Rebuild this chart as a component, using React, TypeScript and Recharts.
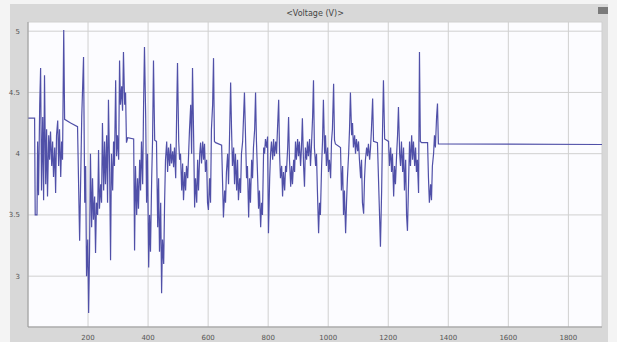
import React from 'react';
import { LineChart, Line, XAxis, YAxis, CartesianGrid } from 'recharts';

const title = '<Voltage (V)>';
const xTicks = [200, 400, 600, 800, 1000, 1200, 1400, 1600, 1800];
const yTicks = [3, 3.5, 4, 4.5, 5];
const yTickLabels = ['3', '3.5', '4', '4.5', '5'];
const xDomain = [0, 1912];
const yDomain = [2.585, 5.075];

// [time, voltage]
const lead: [number, number][] = [
  [0, 4.29], [22, 4.29], [24, 3.5], [30, 3.5],
];

const burst1: [number, number][] = [
  [32, 4.1], [35, 3.66], [39, 4.4], [42, 4.7], [45, 3.7], [49, 4.3], [52, 3.62], [55, 4.64],
  [59, 3.75], [62, 4.2], [65, 3.65], [69, 4.15], [72, 3.95], [75, 4.18], [79, 3.9], [82, 4.1],
  [85, 3.81], [89, 4.05], [92, 3.68], [95, 4.15], [99, 4.27], [102, 3.9], [105, 4.2], [109, 3.81],
  [112, 4.1], [115, 3.95], [119, 5.01], [122, 4.28], [142, 4.25], [165, 4.22], [172, 3.29],
  [179, 4.3], [185, 4.79], [189, 3.6], [192, 3.9], [195, 3.0], [199, 3.3], [202, 2.7], [205, 3.2],
  [208, 4.0], [212, 3.4], [215, 3.8], [218, 3.46], [222, 3.65], [225, 3.19], [228, 3.6], [232, 3.5],
  [235, 4.03], [238, 3.55], [242, 3.75], [245, 3.6], [248, 4.25], [252, 3.7], [255, 4.1], [258, 3.75],
  [262, 4.15], [265, 3.6], [268, 4.44], [272, 3.85], [275, 3.13], [278, 4.0], [282, 3.7], [285, 4.1],
  [288, 3.9], [292, 4.6], [295, 3.98], [298, 4.15], [302, 3.95], [305, 4.76], [308, 4.4], [312, 4.55],
  [315, 4.35], [318, 4.83], [322, 4.4], [325, 4.5], [328, 4.09], [332, 4.13],
];

const burst2: [number, number][] = [
  [352, 4.12], [355, 3.21], [358, 3.9], [362, 3.5], [365, 3.8], [368, 3.55], [372, 3.95], [375, 3.7],
  [378, 4.1], [382, 3.75], [385, 4.4], [388, 4.87], [392, 4.3], [395, 3.6], [398, 4.0], [402, 3.07],
  [405, 3.5], [408, 3.2], [412, 3.8], [415, 4.12], [418, 4.76], [422, 4.11], [428, 4.1], [432, 3.4],
  [435, 3.8], [438, 3.2], [442, 3.6], [445, 2.86], [448, 3.3], [452, 3.1], [455, 3.6], [458, 3.95],
  [462, 4.1], [465, 3.85], [468, 4.05], [472, 3.9], [475, 4.08], [478, 3.92], [482, 4.02], [485, 3.89],
  [488, 4.05], [492, 3.8], [495, 4.3], [498, 4.74], [502, 4.1], [505, 3.95], [508, 4.0], [512, 3.7],
  [515, 3.92], [518, 3.62], [522, 3.85], [525, 3.7], [528, 3.9], [532, 3.8], [535, 4.0], [538, 4.2],
  [542, 4.4], [545, 4.0], [548, 4.7], [552, 4.1], [555, 3.56], [558, 3.8], [562, 3.6], [565, 3.95],
  [568, 3.7], [572, 4.0], [575, 4.09], [578, 3.92], [582, 4.1], [585, 3.95], [588, 4.08], [591, 3.85],
  [595, 3.95], [598, 3.6], [601, 3.54], [605, 3.8], [608, 3.6], [611, 4.2], [615, 4.4], [618, 4.78],
  [621, 4.1], [625, 4.09],
];

const burst3: [number, number][] = [
  [645, 4.07], [651, 3.48], [655, 3.7], [658, 3.6], [661, 3.85], [665, 4.0], [668, 3.75], [671, 4.1],
  [675, 4.58], [678, 4.2], [681, 3.9], [685, 4.05], [688, 3.75], [691, 4.0], [695, 3.7], [698, 3.95],
  [701, 3.62], [705, 3.8], [708, 3.68], [711, 4.0], [715, 4.1], [718, 4.3], [721, 4.5], [725, 4.1],
  [728, 3.8], [731, 3.9], [735, 3.48], [738, 3.8], [741, 3.6], [745, 3.95], [748, 3.8], [751, 4.05],
  [755, 4.2], [758, 4.5], [761, 4.1], [765, 3.8], [768, 3.55], [771, 3.7], [775, 3.4], [778, 3.6],
  [781, 3.5], [785, 4.05], [788, 4.0], [791, 4.12], [795, 4.05], [798, 4.14], [801, 3.35], [805, 3.8],
  [808, 4.0], [811, 4.1], [815, 3.95], [818, 4.12], [821, 3.98], [825, 4.1], [828, 4.0], [831, 4.2],
  [835, 4.44], [838, 4.0], [841, 3.8], [845, 3.9], [848, 3.65], [851, 3.85], [855, 3.7], [858, 3.9],
  [861, 3.85], [865, 4.05], [868, 4.3], [871, 3.95], [875, 3.73], [878, 3.9], [881, 3.75], [885, 3.95],
  [888, 3.85], [891, 4.1], [894, 3.95], [898, 4.12], [901, 3.98], [904, 4.1], [908, 3.9], [911, 4.05],
  [914, 4.29], [918, 3.9], [921, 3.73], [924, 4.05], [928, 3.95], [931, 4.1], [934, 3.98], [938, 4.12],
  [941, 3.9], [944, 4.05], [948, 4.3], [951, 4.6], [954, 4.05], [958, 3.9], [961, 4.0], [964, 3.7],
  [968, 3.35], [971, 3.6], [974, 3.5], [978, 3.9], [981, 4.1], [984, 4.44], [988, 4.0], [991, 4.15],
  [994, 3.9], [998, 4.05], [1001, 3.85], [1004, 3.95], [1008, 3.8], [1011, 4.1], [1014, 4.2],
  [1018, 4.57], [1021, 4.11], [1024, 4.08],
];

const burst4: [number, number][] = [
  [1041, 4.05], [1044, 3.7], [1048, 3.9], [1051, 3.5], [1054, 3.7], [1058, 3.35], [1061, 3.6],
  [1064, 3.8], [1068, 4.0], [1071, 4.2], [1074, 4.5], [1078, 4.15], [1081, 4.25], [1084, 4.05],
  [1088, 4.15], [1091, 4.0], [1094, 4.12], [1098, 4.02], [1101, 4.1], [1104, 3.95], [1108, 3.8],
  [1111, 3.95], [1114, 3.6], [1118, 3.51], [1121, 3.8], [1124, 3.95], [1128, 4.05], [1131, 3.98],
  [1134, 4.08], [1138, 3.95], [1141, 4.05], [1144, 4.2], [1148, 4.45], [1151, 4.1], [1164, 4.09],
  [1171, 3.5], [1174, 3.24], [1178, 3.7], [1181, 4.2], [1184, 4.6], [1188, 4.12], [1201, 4.1],
  [1204, 3.9], [1208, 4.05], [1211, 3.85], [1214, 4.0], [1218, 3.65], [1221, 3.9], [1224, 3.75],
  [1228, 4.0], [1231, 4.15], [1234, 4.38], [1238, 4.0], [1241, 3.9], [1244, 4.1], [1248, 3.85],
  [1251, 4.05], [1254, 3.7], [1258, 3.95], [1261, 3.5], [1264, 3.37], [1268, 3.8], [1271, 4.1],
  [1274, 3.9], [1278, 4.15], [1281, 3.95], [1284, 4.1], [1288, 3.9], [1291, 4.05], [1294, 3.85],
  [1297, 3.95], [1301, 3.68], [1304, 4.83], [1307, 4.1], [1311, 4.09], [1331, 4.09], [1334, 3.8],
  [1337, 3.6], [1341, 3.75], [1344, 3.62], [1347, 3.9], [1351, 4.0], [1354, 4.15], [1357, 4.05],
  [1361, 4.3], [1364, 4.41], [1367, 4.08],
];

const tail: [number, number][] = [
  [1912, 4.075],
];

const data = [...lead, ...burst1, ...burst2, ...burst3, ...burst4, ...tail].map(([t, v]) => ({ t, v }));

const tickStyle = { fontSize: 7, fill: '#555', fontFamily: 'DejaVu Sans, Arial, sans-serif' };

export default function App() {
  return (
    <div style={{ position: 'absolute', left: 0, top: 0, width: 617, height: 342, background: '#f4f4f4', overflow: 'hidden' }}>
      <div style={{ position: 'absolute', left: 10, top: 4, width: 598, height: 338, background: '#d8d8d8' }} />
      <div style={{ position: 'absolute', left: 598, top: 7, width: 10, height: 7, background: '#7a7a7a' }} />
      <div
        style={{
          position: 'absolute', left: 28, width: 574, top: 9, textAlign: 'center',
          fontSize: 8, color: '#444', fontFamily: 'DejaVu Sans, Arial, sans-serif', lineHeight: '10px',
        }}
      >
        {title}
      </div>
      <div style={{ position: 'absolute', left: 0, top: 0 }}>
        <LineChart width={617} height={342} data={data} margin={{ top: 22, right: 15, left: 0, bottom: 0 }}>
          <CartesianGrid stroke="#d0d0d0" fill="#fcfcff" strokeWidth={1} />
          <XAxis
            dataKey="t"
            type="number"
            domain={xDomain}
            ticks={xTicks}
            allowDataOverflow
            height={15}
            tick={tickStyle}
            tickLine={false}
            tickMargin={2}
            axisLine={{ stroke: '#999' }}
          />
          <XAxis xAxisId="top" orientation="top" dataKey="t" type="number" domain={xDomain} height={0} tick={false} tickLine={false} axisLine={{ stroke: '#999' }} />
          <YAxis
            type="number"
            domain={yDomain}
            ticks={yTicks}
            allowDataOverflow
            width={28}
            tick={tickStyle}
            tickFormatter={(v: number) => yTickLabels[yTicks.indexOf(v)] ?? String(v)}
            tickLine={false}
            tickMargin={2}
            axisLine={{ stroke: '#999' }}
          />
          <YAxis yAxisId="right" orientation="right" type="number" domain={yDomain} width={0} tick={false} tickLine={false} axisLine={{ stroke: '#999' }} />
          <Line
            type="linear"
            dataKey="v"
            stroke="#5050a8"
            strokeWidth={1.2}
            dot={false}
            isAnimationActive={false}
          />
        </LineChart>
      </div>
    </div>
  );
}
